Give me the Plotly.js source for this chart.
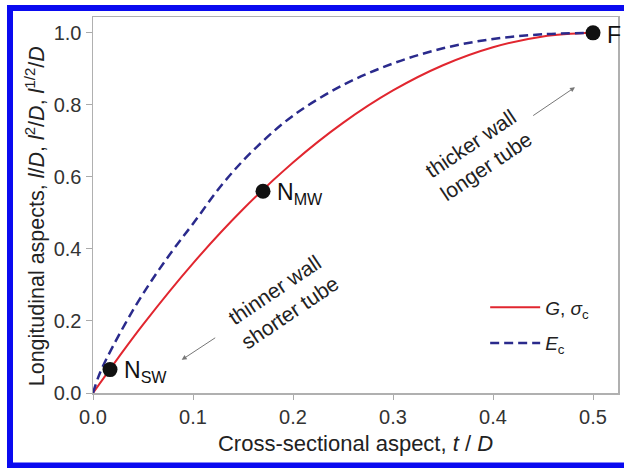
<!DOCTYPE html>
<html>
<head>
<meta charset="utf-8">
<script src="https://cdn.plot.ly/plotly-3.0.1.min.js"></script>
<style>
html,body{margin:0;padding:0;background:#fff;}
#chart{width:624px;height:468px;}
</style>
</head>
<body>
<div id="chart"></div>
<script>
// Data
var gT = [0, 0.025, 0.05, 0.1, 0.15, 0.2, 0.25, 0.3, 0.35, 0.4, 0.45, 0.5];
var gY = [0, 0.097, 0.19, 0.36, 0.51, 0.64, 0.75, 0.84, 0.91, 0.96, 0.99, 1.0];
var eT = [0, 0.005, 0.01, 0.02, 0.04, 0.06, 0.08, 0.1, 0.13, 0.16, 0.2, 0.25, 0.3, 0.35, 0.4, 0.45, 0.5];
var eY = [0, 0.042, 0.075, 0.13, 0.23, 0.318, 0.397, 0.47, 0.582, 0.673, 0.77, 0.855, 0.915, 0.957, 0.983, 0.996, 1.0];
var pointNames = ["N<sub>SW</sub>", "N<sub>MW</sub>", "F"];
var pointT = [0.017, 0.17, 0.5];
var pointY = [0.065, 0.56, 1.0];
var xTicks = [0, 0.1, 0.2, 0.3, 0.4, 0.5];
var yTicks = [0, 0.2, 0.4, 0.6, 0.8, 1.0];
var seriesNames = ["<i>G</i>, <i>σ</i><sub>c</sub>", "<i>E</i><sub>c</sub>"];

var font = "Liberation Sans, Arial, sans-serif";

var traces = [
  {x: gT, y: gY, mode: "lines", line: {color: "#e1262f", width: 2, shape: "spline"},
   name: seriesNames[0], legendgroup: "g"},
  {x: eT, y: eY, mode: "lines", line: {color: "#2a2a8c", width: 2.5, dash: "9px,5px", shape: "spline"},
   name: seriesNames[1], legendgroup: "e"},
  {x: pointT, y: pointY, mode: "markers", marker: {color: "#111", size: 15},
   showlegend: false, hoverinfo: "skip"}
];

var annotations = pointNames.map(function(n, i){
  return {x: pointT[i], y: pointY[i], xref: "x", yref: "y", text: n, showarrow: false,
          xanchor: "left", yanchor: "middle", xshift: 12, yshift: -2,
          font: {family: font, size: 23, color: "#111"}};
});
annotations.push({x: 0.189, y: 0.256, xref: "x", yref: "y", text: "thinner wall<br>shorter tube",
  showarrow: false, textangle: -34, font: {family: font, size: 21, color: "#222"}});
annotations.push({x: 0.385, y: 0.66, xref: "x", yref: "y", text: "thicker wall<br>longer tube",
  showarrow: false, textangle: -34, font: {family: font, size: 21, color: "#222"}});
annotations.push({x: 0.0887, y: 0.092, ax: 0.1237, ay: 0.156, xref: "x", yref: "y", axref: "x", ayref: "y",
  text: "", showarrow: true, arrowhead: 2, arrowsize: 1, arrowwidth: 1, arrowcolor: "#777"});
annotations.push({x: 0.482, y: 0.849, ax: 0.4387, ay: 0.7675, xref: "x", yref: "y", axref: "x", ayref: "y",
  text: "", showarrow: true, arrowhead: 2, arrowsize: 1, arrowwidth: 1, arrowcolor: "#777"});
annotations.push({x: -0.1105, y: 0.47, xref: "paper", yref: "paper", showarrow: false, textangle: -90,
  xanchor: "center", yanchor: "middle",
  text: "Longitudinal aspects, <i>l</i>/<i>D</i>, <i>l</i><sup>2</sup>/<i>D</i>, <i>l</i><sup>1/2</sup>/<i>D</i>",
  font: {family: font, size: 21.5, color: "#222"}});

var layout = {
  width: 624, height: 468,
  margin: {l: 93, r: 6, t: 17, b: 75},
  paper_bgcolor: "#fff", plot_bgcolor: "#fff",
  font: {family: font, size: 15, color: "#333"},
  showlegend: true,
  legend: {x: 0.747, y: 0.278, xanchor: "left", yanchor: "top", bgcolor: "rgba(0,0,0,0)",
           itemwidth: 50, tracegroupgap: 8,
           font: {family: font, size: 19, color: "#222"}},
  xaxis: {range: [0, 0.525], tickvals: xTicks, tickformat: ".1f", ticks: "outside", ticklen: 5,
          tickcolor: "#aaa", showline: true, linecolor: "#b0b0b0", linewidth: 1.5, mirror: true,
          showgrid: false, zeroline: false, tickfont: {size: 20, color: "#333"},
          title: {text: "Cross-sectional aspect, <i>t</i> / <i>D</i>", font: {size: 22, color: "#222"}, standoff: 9}},
  yaxis: {range: [0, 1.044], tickvals: yTicks, tickformat: ".1f", ticks: "outside", ticklen: 6,
          tickcolor: "#aaa", showline: true, linecolor: "#b0b0b0", linewidth: 1.5, mirror: true,
          showgrid: false, zeroline: false, tickfont: {size: 20, color: "#333"}},
  annotations: annotations,
  shapes: [{type: "rect", xref: "paper", yref: "paper", x0: -0.1581, x1: 1.019, y0: -0.1928, y1: 1.0239,
            line: {color: "#0a0af0", width: 6}, fillcolor: "rgba(0,0,0,0)", layer: "above"}]
};

Plotly.newPlot("chart", traces, layout, {displayModeBar: false, staticPlot: true});
</script>
</body>
</html>
